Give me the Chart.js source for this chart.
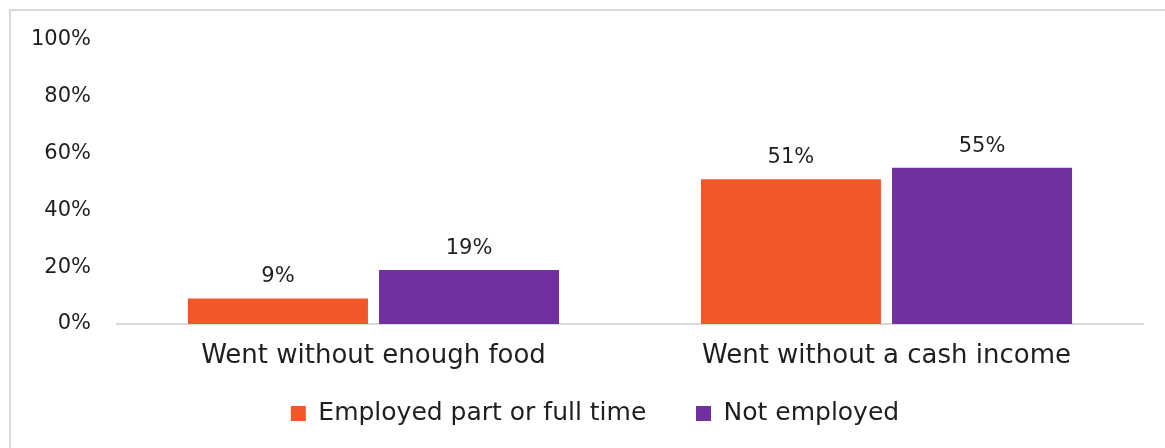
<!DOCTYPE html>
<html>
<head>
<meta charset="utf-8">
<script src="https://cdn.jsdelivr.net/npm/chart.js@4/dist/chart.umd.min.js"></script>
<style>
  html, body { margin: 0; padding: 0; background: #fff; overflow: hidden; }
  #wrap { position: relative; width: 1165px; height: 448px; }
</style>
</head>
<body>
<div id="wrap"><canvas id="graph-canvas"></canvas></div>
<script>
const categories = ['Went without enough food', 'Went without a cash income'];
const employed = [9, 51];
const notEmployed = [19, 55];
const yTicks = [0, 20, 40, 60, 80, 100];

const FONT = 'DejaVu Sans';
const TEXT = '#1f1f1f';

// light grey frame around the whole chart (runs off the right/bottom edge)
const frame = {
  id: 'frame',
  beforeDraw(chart) {
    const ctx = chart.ctx;
    ctx.save();
    ctx.strokeStyle = '#d9d9d9';
    ctx.lineWidth = 2;
    ctx.strokeRect(10, 10, 2000, 2000);
    ctx.restore();
  },
  afterLayout(chart) {
    // the legend is centred a bit right of the canvas middle in the original
    if (chart.legend) chart.legend.left += 47;
  }
};

// value labels above the bars
const valueLabels = {
  id: 'valueLabels',
  afterDatasetsDraw(chart) {
    const ctx = chart.ctx;
    ctx.save();
    ctx.font = '21px "' + FONT + '"';
    ctx.fillStyle = TEXT;
    ctx.textAlign = 'center';
    ctx.textBaseline = 'alphabetic';
    chart.data.datasets.forEach((ds, i) => {
      chart.getDatasetMeta(i).data.forEach((bar, j) => {
        ctx.fillText(ds.data[j] + '%', bar.x, bar.y - 16);
      });
    });
    ctx.restore();
  }
};

let chartdata = {
  labels: categories,
  datasets: [
    {
      label: 'Employed part or full time',
      backgroundColor: '#F2572A',
      data: employed
    },
    {
      label: 'Not employed',
      backgroundColor: '#7030A0',
      data: notEmployed
    }
  ]
};

let barGraph = new Chart(document.getElementById('graph-canvas'), {
  type: 'bar',
  data: chartdata,
  plugins: [frame, valueLabels],
  options: {
    responsive: true,
    maintainAspectRatio: false,
    animation: false,
    layout: { padding: { top: 40, right: 22, bottom: 12, left: 0 } },
    datasets: {
      bar: { categoryPercentage: 0.745, barPercentage: 0.942 }
    },
    scales: {
      x: {
        grid: { display: false, drawTicks: false },
        border: { display: true, color: '#d9d9d9', width: 2 },
        ticks: {
          padding: 17,
          color: TEXT,
          font: { size: 26, family: FONT }
        },
        afterFit(scale) { scale.height = 67; }
      },
      y: {
        min: 0,
        max: 100,
        afterBuildTicks(scale) {
          scale.ticks = yTicks.map(v => ({ value: v }));
        },
        afterFit(scale) { scale.width = 117; },
        grid: { display: false, drawTicks: false },
        border: { display: false },
        ticks: {
          padding: 26,
          color: TEXT,
          font: { size: 21, family: FONT },
          callback: v => v + '%'
        }
      }
    },
    plugins: {
      tooltip: { enabled: false },
      legend: {
        position: 'bottom',
        labels: {
          color: TEXT,
          boxWidth: 15,
          boxHeight: 15,
          padding: 10,
          font: { size: 25, family: FONT },
          generateLabels(chart) {
            const items = Chart.defaults.plugins.legend.labels.generateLabels(chart);
            items.forEach((it, i) => {
              it.lineWidth = 0;
              if (i === 0) it.text = it.text + '     ';
            });
            return items;
          }
        }
      }
    }
  }
});
</script>
</body>
</html>
